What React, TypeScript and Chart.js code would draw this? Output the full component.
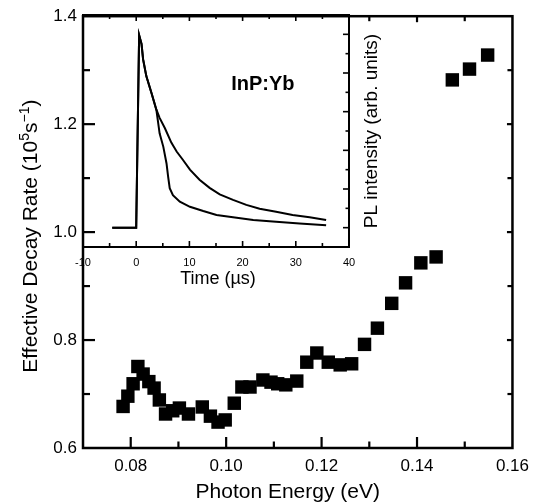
import React, { useEffect, useRef } from 'react';
import { Chart, registerables } from 'chart.js';

Chart.register(...registerables);

const FONT = '"Liberation Sans", Arial, Helvetica, sans-serif';

// ---- Main panel: effective decay rate vs photon energy ----
const photonEnergy = [
  0.0784, 0.0794, 0.0805, 0.0815, 0.0826, 0.0838, 0.0849, 0.086, 0.0873, 0.0888,
  0.0902, 0.0921, 0.095, 0.0967, 0.0983, 0.0998, 0.1017, 0.1033, 0.105, 0.1077,
  0.1094, 0.1108, 0.1125, 0.1148, 0.1169, 0.119, 0.1214, 0.1239, 0.1263, 0.129,
  0.1317, 0.1347, 0.1376, 0.1408, 0.144, 0.1474, 0.151, 0.1548,
];
const decayRate = [
  0.677, 0.696, 0.719, 0.751, 0.737, 0.723, 0.711, 0.689, 0.663, 0.669,
  0.674, 0.663, 0.676, 0.659, 0.648, 0.652, 0.683, 0.713, 0.713, 0.726,
  0.722, 0.719, 0.717, 0.724, 0.759, 0.776, 0.759, 0.754, 0.756, 0.792,
  0.822, 0.868, 0.906, 0.943, 0.954, 1.282, 1.302, 1.328,
];
const mainXTicks = [0.08, 0.1, 0.12, 0.14, 0.16];
const mainXMinor = [0.09, 0.11, 0.13, 0.15];
const mainYTicks = [0.6, 0.8, 1.0, 1.2, 1.4];
const mainYMinor = [0.7, 0.9, 1.1, 1.3];

// ---- Inset: PL decay transients ----
const timeSlow = [-4.5, 0, 0.55, 1.0, 1.3, 1.9, 2.9, 3.8, 4.4, 5.4, 6.6, 7.6, 8.8, 10.1, 11.9, 13.8, 15.7, 18.2, 20.7, 23.2, 26.3, 29.4, 32.6, 35.7];
const plSlow = [0, 0, 4.98, 4.75, 4.35, 3.92, 3.47, 3.05, 2.84, 2.57, 2.2, 1.97, 1.75, 1.5, 1.24, 1.03, 0.86, 0.72, 0.59, 0.49, 0.41, 0.33, 0.27, 0.2];
const timeFast = [-4.5, 0, 0.55, 1.0, 1.3, 1.9, 2.9, 3.8, 4.4, 5.1, 5.7, 6.0, 6.3, 6.9, 8.2, 10.1, 12.6, 15.1, 18.2, 22.0, 26.3, 30.7, 35.7];
const plFast = [0, 0, 4.98, 4.75, 4.35, 3.92, 3.47, 3.04, 2.44, 2.09, 1.66, 1.32, 1.02, 0.84, 0.67, 0.54, 0.43, 0.33, 0.27, 0.2, 0.15, 0.11, 0.06];
const insetXTicks = [-10, 0, 10, 20, 30, 40];
const insetXMinor = [-5, 5, 15, 25, 35];
const insetYTicks = [0, 1, 2, 3, 4, 5];
const insetYMinor = [0.5, 1.5, 2.5, 3.5, 4.5];

function line(ctx: CanvasRenderingContext2D, x1: number, y1: number, x2: number, y2: number) {
  ctx.beginPath();
  ctx.moveTo(x1, y1);
  ctx.lineTo(x2, y2);
  ctx.stroke();
}

export default function App() {
  const mainRef = useRef<HTMLCanvasElement>(null);
  const insetRef = useRef<HTMLCanvasElement>(null);

  useEffect(() => {
    const insetPlugin = {
      id: 'insetDecor',
      afterDraw(chart: any) {
        const { ctx, chartArea: a } = chart;
        const x = chart.scales.x;
        const y = chart.scales.y;
        ctx.save();
        ctx.strokeStyle = '#000';
        ctx.lineWidth = 2;
        ctx.strokeRect(a.left, a.top, a.right - a.left, a.bottom - a.top);
        ctx.lineWidth = 1.6;
        for (const v of insetXTicks) {
          const px = x.getPixelForValue(v);
          if (px <= a.left + 1 || px >= a.right - 1) continue;
          line(ctx, px, a.bottom, px, a.bottom - 6);
          line(ctx, px, a.top, px, a.top + 6);
        }
        for (const v of insetXMinor) {
          const px = x.getPixelForValue(v);
          line(ctx, px, a.bottom, px, a.bottom - 4);
          line(ctx, px, a.top, px, a.top + 4);
        }
        for (const v of insetYTicks) {
          const py = y.getPixelForValue(v);
          line(ctx, a.right, py, a.right - 6, py);
        }
        for (const v of insetYMinor) {
          const py = y.getPixelForValue(v);
          line(ctx, a.right, py, a.right - 3.5, py);
        }
        ctx.fillStyle = '#000';
        ctx.textAlign = 'center';
        ctx.textBaseline = 'alphabetic';
        ctx.font = `18px ${FONT}`;
        ctx.fillText('Time (\u00b5s)', (a.left + a.right) / 2 + 2, a.bottom + 37);
        ctx.save();
        ctx.translate(a.right + 28, (a.top + a.bottom) / 2);
        ctx.rotate(-Math.PI / 2);
        ctx.font = `19px ${FONT}`;
        ctx.fillText('PL intensity (arb. units)', 0, 0);
        ctx.restore();
        ctx.font = `bold 20px ${FONT}`;
        ctx.fillText('InP:Yb', x.getPixelForValue(23.8), y.getPixelForValue(3.55));
        ctx.restore();
      },
    };

    const inset = new Chart(insetRef.current!, {
      type: 'scatter',
      data: {
        datasets: [
          {
            data: timeSlow.map((t, i) => ({ x: t, y: plSlow[i] })),
            showLine: true,
            pointRadius: 0,
            borderColor: '#000',
            borderWidth: 2,
            tension: 0,
          },
          {
            data: timeFast.map((t, i) => ({ x: t, y: plFast[i] })),
            showLine: true,
            pointRadius: 0,
            borderColor: '#000',
            borderWidth: 2,
            tension: 0,
          },
        ],
      },
      options: {
        responsive: false,
        animation: false,
        events: [],
        layout: { padding: { left: 83, top: 15, right: 188, bottom: 237 } },
        plugins: { legend: { display: false }, tooltip: { enabled: false } },
        scales: {
          x: {
            type: 'linear',
            min: -10,
            max: 40,
            afterFit: (s: any) => { s.height = 20; },
            afterBuildTicks: (s: any) => { s.ticks = insetXTicks.map((value) => ({ value })); },
            grid: { display: false, drawTicks: false },
            border: { display: false },
            ticks: {
              autoSkip: false,
              maxRotation: 0,
              padding: 9,
              color: '#000',
              font: { family: FONT, size: 11 },
              callback: (v: any) => String(v),
            },
          },
          y: {
            type: 'linear',
            min: -0.5,
            max: 5.5,
            display: false,
          },
        },
      },
      plugins: [insetPlugin],
    });

    const mainPlugin = {
      id: 'mainDecor',
      afterDraw(chart: any) {
        const { ctx, chartArea: a } = chart;
        const x = chart.scales.x;
        const y = chart.scales.y;
        const insetRight = inset.chartArea ? inset.chartArea.right : a.left;
        ctx.save();
        ctx.strokeStyle = '#000';
        ctx.lineWidth = 2.5;
        ctx.strokeRect(a.left, a.top, a.right - a.left, a.bottom - a.top);
        ctx.lineWidth = 2.2;
        for (const v of mainXTicks) {
          const px = x.getPixelForValue(v);
          if (px >= a.right - 1) continue;
          line(ctx, px, a.bottom, px, a.bottom - 11);
          if (px > insetRight + 2) line(ctx, px, a.top, px, a.top + 6);
        }
        for (const v of mainXMinor) {
          const px = x.getPixelForValue(v);
          line(ctx, px, a.bottom, px, a.bottom - 6.5);
          if (px > insetRight + 2) line(ctx, px, a.top, px, a.top + 5);
        }
        for (const v of mainYTicks) {
          const py = y.getPixelForValue(v);
          if (py <= a.top + 1 || py >= a.bottom - 1) continue;
          line(ctx, a.left, py, a.left + 12, py);
          line(ctx, a.right, py, a.right - 5.5, py);
        }
        for (const v of mainYMinor) {
          const py = y.getPixelForValue(v);
          line(ctx, a.left, py, a.left + 7, py);
          line(ctx, a.right, py, a.right - 5, py);
        }
        // axis titles
        ctx.fillStyle = '#000';
        ctx.textBaseline = 'alphabetic';
        ctx.textAlign = 'center';
        ctx.font = `21px ${FONT}`;
        ctx.fillText('Photon Energy (eV)', (a.left + a.right) / 2 - 10, a.bottom + 50);

        const segs = [
          { t: 'Effective Decay Rate (10', s: 21, dy: 0 },
          { t: '5', s: 14, dy: -8 },
          { t: 's', s: 21, dy: 0 },
          { t: '\u22121', s: 14, dy: -8 },
          { t: ')', s: 21, dy: 0 },
        ];
        let total = 0;
        const widths = segs.map((sg) => {
          ctx.font = `${sg.s}px ${FONT}`;
          const w = ctx.measureText(sg.t).width;
          total += w;
          return w;
        });
        ctx.save();
        ctx.translate(37, (a.top + a.bottom) / 2 + 4);
        ctx.rotate(-Math.PI / 2);
        ctx.textAlign = 'left';
        let cx = -total / 2;
        segs.forEach((sg, i) => {
          ctx.font = `${sg.s}px ${FONT}`;
          ctx.fillText(sg.t, cx, sg.dy);
          cx += widths[i];
        });
        ctx.restore();
        ctx.restore();
      },
    };

    const main = new Chart(mainRef.current!, {
      type: 'scatter',
      data: {
        datasets: [
          {
            data: photonEnergy.map((e, i) => ({ x: e, y: decayRate[i] })),
            pointStyle: 'rect',
            pointRadius: 9.5,
            pointBorderWidth: 0,
            backgroundColor: '#000',
            borderColor: '#000',
            showLine: false,
            clip: false,
          } as any,
        ],
      },
      options: {
        responsive: false,
        animation: false,
        events: [],
        layout: { padding: { left: 0, top: 15, right: 22, bottom: 0 } },
        plugins: { legend: { display: false }, tooltip: { enabled: false } },
        scales: {
          x: {
            type: 'linear',
            min: 0.07,
            max: 0.16,
            afterFit: (s: any) => { s.height = 56; },
            afterBuildTicks: (s: any) => { s.ticks = mainXTicks.map((value) => ({ value })); },
            grid: { display: false, drawTicks: false },
            border: { display: false },
            ticks: {
              autoSkip: false,
              maxRotation: 0,
              padding: 8,
              color: '#000',
              font: { family: FONT, size: 17 },
              callback: (v: any) => Number(v).toFixed(2),
            },
          },
          y: {
            type: 'linear',
            min: 0.6,
            max: 1.4,
            afterFit: (s: any) => { s.width = 83; },
            afterBuildTicks: (s: any) => { s.ticks = mainYTicks.map((value) => ({ value })); },
            grid: { display: false, drawTicks: false },
            border: { display: false },
            ticks: {
              autoSkip: false,
              padding: 6,
              color: '#000',
              font: { family: FONT, size: 17 },
              callback: (v: any) => Number(v).toFixed(1),
            },
          },
        },
      },
      plugins: [mainPlugin],
    });

    return () => {
      main.destroy();
      inset.destroy();
    };
  }, []);

  return (
    <div style={{ position: 'absolute', left: 0, top: 0, width: 537, height: 504, background: '#fff' }}>
      <canvas ref={insetRef} width={537} height={504} style={{ position: 'absolute', left: 0, top: 0 }} />
      <canvas ref={mainRef} width={537} height={504} style={{ position: 'absolute', left: 0, top: 0 }} />
    </div>
  );
}
